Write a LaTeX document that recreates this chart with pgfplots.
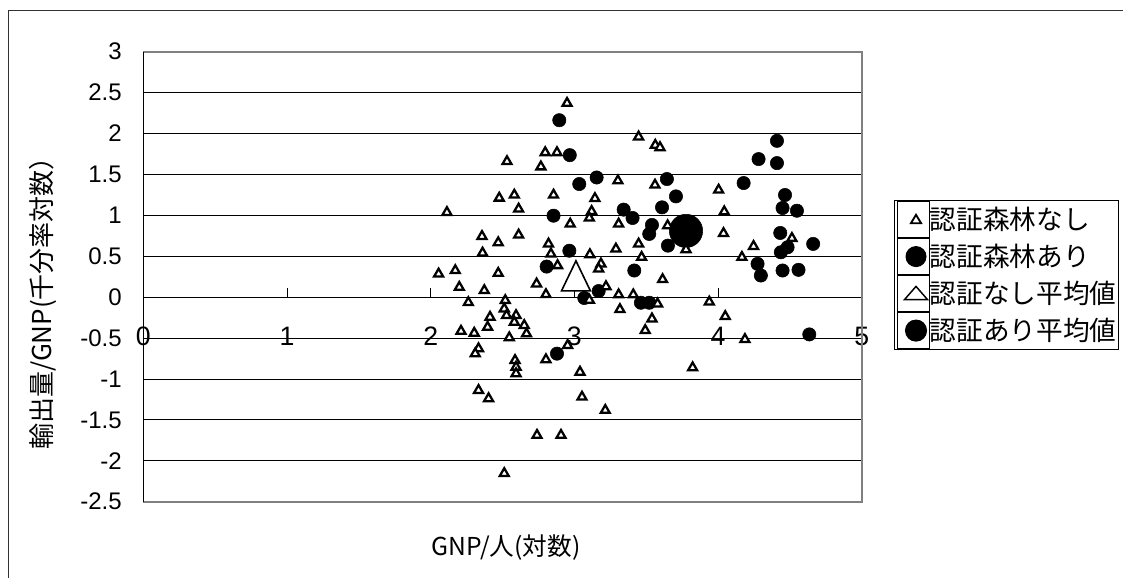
\documentclass[border=0pt]{standalone}
\usepackage{fontspec}
\setmainfont{Liberation Sans}
\newfontfamily\jp{Noto Sans CJK JP}
\usepackage{pgfplots}
\usepackage{pgfplotstable}
\pgfplotsset{compat=1.18}

\pgfplotstableread{
x y
2.949 2.371
2.531 1.659
2.797 1.768
2.879 1.768
2.767 1.594
2.477 1.212
2.582 1.249
2.855 1.249
2.612 1.078
2.113 1.037
2.971 0.895
2.357 0.744
2.470 0.667
2.612 0.761
2.361 0.541
2.820 0.651
2.837 0.529
2.883 0.387
2.055 0.285
2.171 0.326
2.470 0.293
2.199 0.122
2.373 0.082
2.737 0.163
2.802 0.033
2.262 -0.065
2.519 -0.040
2.512 -0.142
2.413 -0.244
2.528 -0.223
2.594 -0.223
2.582 -0.305
2.396 -0.366
2.651 -0.345
2.211 -0.415
2.303 -0.439
2.547 -0.495
2.667 -0.447
2.953 -0.589
2.802 -0.763
2.333 -0.629
2.310 -0.690
2.587 -0.772
2.594 -0.854
2.594 -0.934
2.333 -1.138
2.403 -1.239
2.740 -1.687
2.907 -1.687
2.512 -2.154
3.039 -0.915
3.053 -1.220
3.447 1.960
3.563 1.858
3.596 1.829
3.303 1.423
3.561 1.371
4.004 1.310
3.143 1.207
3.120 1.049
3.104 0.968
3.308 0.895
3.649 0.874
4.043 1.045
4.038 0.780
3.777 0.582
3.447 0.651
3.289 0.590
3.108 0.521
3.468 0.488
3.185 0.407
3.169 0.346
3.614 0.216
3.104 -0.035
3.220 0.130
3.308 0.030
3.410 0.030
3.579 -0.081
3.317 -0.150
3.939 -0.058
3.540 -0.264
3.493 -0.406
4.050 -0.235
3.823 -0.861
3.215 -1.382
4.247 0.622
4.166 0.488
4.514 0.720
4.187 -0.516
}\tri

\pgfplotstableread{
x y
2.895 2.163
2.968 1.736
3.034 1.383
3.155 1.463
3.644 1.444
3.707 1.232
3.610 1.098
3.343 1.070
3.405 0.968
2.855 0.996
3.540 0.883
3.521 0.773
3.651 0.630
2.965 0.568
2.807 0.374
3.417 0.326
3.169 0.075
3.069 -0.010
3.463 -0.068
3.521 -0.068
2.879 -0.690
4.410 1.911
4.282 1.688
4.410 1.639
4.178 1.395
4.466 1.249
4.449 1.090
4.549 1.057
4.433 0.785
4.662 0.651
4.484 0.610
4.437 0.549
4.275 0.407
4.298 0.265
4.449 0.326
4.560 0.334
4.635 -0.455
}\cir

\begin{document}
\begin{tikzpicture}
\useasboundingbox (0,0) rectangle (842.25pt,433.5pt);
\fill[white] (0,0) rectangle (842.25pt,433.5pt);
\draw[black!80, line width=1.1pt] (6.2pt,0) -- (6.2pt,425.5pt) -- (842.25pt,425.5pt);
\begin{axis}[
  at={(107.5pt,57.2pt)}, anchor=south west,
  scale only axis, width=538.8pt, height=337.5pt,
  xmin=0, xmax=5, ymin=-2.5, ymax=3,
  axis x line=middle, axis y line=left,
  axis line style={-},
  x axis line style={black, line width=0.75pt},
  y axis line style={black, line width=1pt},
  xtick={0,1,2,3,4,5},
  ytick={-2.5,-2,-1.5,-1,-0.5,0,0.5,1,1.5,2,2.5,3},
  tick align=inside,
  major tick length=7pt,
  tick style={black, line width=0.75pt},
  hide obscured x ticks=false,
  ymajorgrids,
  major grid style={black, line width=0.75pt},
  /pgf/number format/assume math mode=true,
  yticklabel style={font=\fontsize{18}{20}\selectfont, anchor=east, inner sep=0pt, xshift=-16pt},
  xticklabel style={font=\fontsize{20}{24}\selectfont, anchor=center, inner sep=0pt, yshift=-29.25pt},
  clip=false,
  reverse legend,
  legend style={at={(1.0454,0.6704)}, anchor=north west, draw=black, line width=0.75pt,
    inner xsep=1.5pt, inner ysep=0.4pt, row sep=0pt, column sep=0pt,
    font=\jp\fontsize{20}{24}\selectfont, cells={anchor=west}, nodes={inner sep=0pt}},
  after end axis/.code={
    \draw[gray, line width=1.5pt] (rel axis cs:0,0) -- (rel axis cs:1,0) -- (rel axis cs:1,1) -- (rel axis cs:0,1);
    \draw[black, line width=1pt] (rel axis cs:0,0) -- (rel axis cs:0,1);
  },
]
\addplot[only marks, mark=*, mark size=12.5pt, black,
  legend image code/.code={\path (0pt,-13.5pt) rectangle (24pt,13.5pt); \fill[black] (14pt,0pt) circle (7.9pt);}]
  coordinates {(3.777,0.81)};
\addlegendentry{認証あり平均値}
\addplot[only marks, mark=triangle*, mark size=12.5pt, black,
  mark options={fill=white, line width=1.2pt, yscale=1.2},
  legend image code/.code={\path (0pt,-13.5pt) rectangle (24pt,13.5pt); \draw[black, line width=1.1pt, fill=white] (5.3pt,-4.6pt) -- (22.7pt,-4.6pt) -- (14pt,5.4pt) -- cycle;}]
  coordinates {(3.011,0.20)};
\addlegendentry{認証なし平均値}
\addplot[only marks, mark=*, mark size=5pt, black,
  legend image code/.code={\path (0pt,-13.5pt) rectangle (24pt,13.5pt); \fill[black] (14pt,0pt) circle (7.5pt);}]
  table[x=x,y=y] {\cir};
\addlegendentry{認証森林あり}
\addplot[only marks, mark=triangle*, mark size=3.9pt, black,
  mark options={fill=white, line width=1.7pt},
  legend image code/.code={\path (0pt,-13.5pt) rectangle (24pt,13.5pt); \draw[black, line width=1.4pt, fill=white] (14pt,0pt) ++(-3.8pt,-2.7pt) -- ++(7.6pt,0pt) -- ++(-3.8pt,6.3pt) -- cycle;}]
  table[x=x,y=y] {\tri};
\addlegendentry{認証森林なし}
\end{axis}
\node[rotate=90, font=\jp\fontsize{19.5}{22}\selectfont] at (32pt,210.75pt) {輸出量/GNP(千分率対数）};
\node[font=\jp\fontsize{18.5}{22}\selectfont] at (379.5pt,22.5pt) {GNP/人(対数)};
\end{tikzpicture}
\end{document}
